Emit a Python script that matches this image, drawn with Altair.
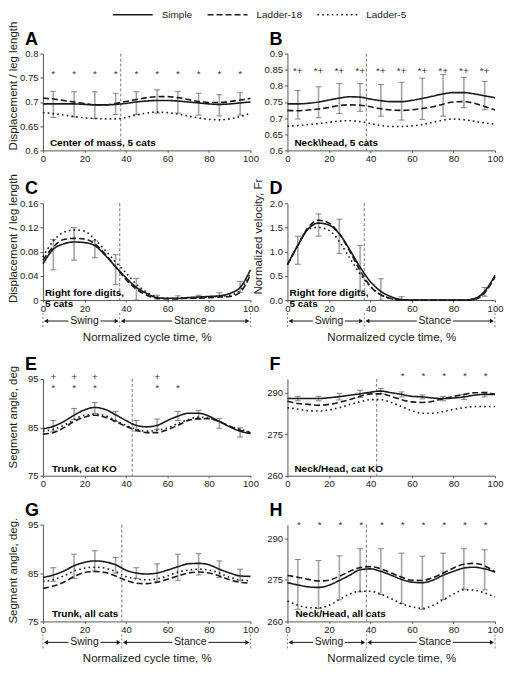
import altair as alt
import pandas as pd

FONT = "Liberation Sans"
INK = "#1a1a1a"
AXC = "#555555"

SERIES = ["Simple", "Ladder-18", "Ladder-5"]
X = list(range(0, 101, 5))
XE = list(range(5, 100, 10))
XTICKS = [0, 20, 40, 60, 80, 100]

# ---------------- A: Center of mass ----------------
A_S = [0.696, 0.696, 0.696, 0.696, 0.695, 0.694, 0.694, 0.695, 0.697, 0.700, 0.702, 0.703, 0.703, 0.702, 0.700, 0.698, 0.696, 0.695, 0.696, 0.698, 0.700]
A_L18 = [0.708, 0.706, 0.703, 0.700, 0.697, 0.694, 0.694, 0.697, 0.701, 0.705, 0.709, 0.711, 0.711, 0.709, 0.705, 0.701, 0.699, 0.699, 0.701, 0.704, 0.707]
A_L5 = [0.678, 0.676, 0.673, 0.670, 0.667, 0.666, 0.665, 0.665, 0.668, 0.673, 0.677, 0.679, 0.678, 0.675, 0.671, 0.667, 0.664, 0.663, 0.665, 0.670, 0.677]
A_LO = [0.668, 0.669, 0.666, 0.674, 0.674, 0.677, 0.677, 0.673, 0.671, 0.673]
A_HI = [0.722, 0.721, 0.721, 0.718, 0.721, 0.725, 0.722, 0.718, 0.715, 0.719]

# ---------------- B: Neck/head ----------------
B_S = [0.744, 0.744, 0.746, 0.750, 0.756, 0.762, 0.766, 0.765, 0.759, 0.754, 0.751, 0.751, 0.755, 0.761, 0.768, 0.775, 0.779, 0.779, 0.775, 0.769, 0.763]
B_L18 = [0.724, 0.723, 0.725, 0.728, 0.733, 0.739, 0.741, 0.740, 0.735, 0.729, 0.725, 0.724, 0.726, 0.730, 0.735, 0.743, 0.750, 0.751, 0.746, 0.736, 0.725]
B_L5 = [0.675, 0.677, 0.680, 0.683, 0.687, 0.691, 0.692, 0.689, 0.683, 0.677, 0.674, 0.674, 0.676, 0.680, 0.687, 0.694, 0.697, 0.695, 0.690, 0.685, 0.681]
B_LO = [0.697, 0.701, 0.714, 0.721, 0.706, 0.694, 0.696, 0.706, 0.732, 0.726]
B_HI = [0.786, 0.797, 0.807, 0.807, 0.804, 0.811, 0.824, 0.835, 0.826, 0.814]

# ---------------- C: Right fore digits displacement ----------------
C_S = [0.060, 0.084, 0.093, 0.096, 0.095, 0.090, 0.074, 0.055, 0.037, 0.021, 0.011, 0.004, 0.003, 0.003, 0.004, 0.005, 0.006, 0.007, 0.011, 0.021, 0.050]
C_L18 = [0.066, 0.088, 0.100, 0.102, 0.101, 0.093, 0.076, 0.055, 0.034, 0.018, 0.008, 0.003, 0.002, 0.002, 0.003, 0.003, 0.004, 0.005, 0.006, 0.013, 0.042]
C_L5 = [0.071, 0.098, 0.112, 0.116, 0.114, 0.100, 0.082, 0.063, 0.045, 0.026, 0.013, 0.005, 0.003, 0.003, 0.004, 0.004, 0.005, 0.006, 0.008, 0.016, 0.045]
C_LO = [0.050, 0.066, 0.070, 0.026, 0.000, 0.000, 0.002, 0.004, 0.006, 0.013]
C_HI = [0.100, 0.120, 0.098, 0.075, 0.036, 0.008, 0.007, 0.008, 0.012, 0.031]

# ---------------- D: Right fore digits velocity ----------------
D_S = [0.73, 1.13, 1.47, 1.59, 1.55, 1.37, 1.04, 0.68, 0.38, 0.18, 0.07, 0.01, 0, 0, 0, 0, 0, 0, 0.03, 0.18, 0.51]
D_L18 = [0.73, 1.13, 1.50, 1.65, 1.59, 1.37, 1.01, 0.61, 0.28, 0.11, 0.03, 0, 0, 0, 0, 0, 0, 0, 0.01, 0.15, 0.48]
D_L5 = [0.73, 1.13, 1.47, 1.50, 1.44, 1.21, 0.87, 0.54, 0.28, 0.11, 0.03, 0, 0, 0, 0, 0, 0, 0, 0.01, 0.16, 0.49]
D_EX = [5, 15, 25, 35, 45, 55, 95]
D_LO = [0.74, 1.32, 0.96, 0.20, 0.0, 0.0, 0.08]
D_HI = [1.32, 1.78, 1.67, 1.13, 0.44, 0.07, 0.26]

# ---------------- E: Trunk, cat KO ----------------
E_S = [84.7, 85.2, 86.2, 87.5, 88.6, 89.1, 88.7, 87.6, 86.4, 85.4, 85.1, 85.4, 86.4, 87.3, 87.9, 87.9, 87.3, 86.2, 85.1, 84.2, 83.7]
E_L18 = [83.6, 83.9, 84.9, 86.2, 87.1, 87.5, 87.1, 86.2, 85.2, 84.4, 83.9, 83.9, 84.5, 85.4, 86.4, 86.8, 86.8, 86.2, 85.2, 84.4, 83.9]
E_L5 = [84.2, 84.6, 85.4, 86.6, 87.5, 87.7, 87.4, 86.4, 85.4, 84.6, 84.2, 84.4, 84.9, 85.8, 86.6, 87.1, 86.9, 86.2, 85.2, 84.6, 84.0]
E_LO = [84.2, 86.6, 87.9, 86.2, 84.2, 84.6, 86.4, 86.6, 84.8, 83.0]
E_HI = [86.4, 88.9, 90.1, 88.3, 86.4, 86.7, 88.3, 88.5, 86.8, 84.9]

# ---------------- F: Neck/Head, cat KO ----------------
F_S = [287.9, 287.9, 287.9, 287.9, 288.2, 288.6, 289.1, 289.6, 290.2, 290.6, 290.0, 289.4, 288.7, 288.5, 288.1, 287.9, 288.1, 288.5, 289.1, 289.4, 289.4]
F_L18 = [286.9, 286.1, 285.8, 285.5, 285.8, 286.5, 287.5, 288.7, 289.6, 289.6, 288.7, 287.5, 286.7, 286.5, 286.9, 287.9, 288.7, 289.4, 290.0, 290.0, 289.4]
F_L5 = [284.6, 284.1, 283.5, 283.4, 283.8, 284.6, 285.8, 286.7, 287.5, 287.5, 286.5, 285.0, 283.5, 282.6, 282.6, 283.2, 284.0, 284.6, 285.0, 285.0, 285.0]
F_LO = [287.1, 287.1, 287.4, 288.3, 289.6, 288.5, 287.8, 287.1, 287.6, 288.5]
F_HI = [288.7, 288.7, 289.8, 290.9, 291.6, 290.3, 289.2, 288.7, 289.4, 290.3]

# ---------------- G: Trunk, all cats ----------------
G_S = [84.1, 84.6, 85.4, 86.5, 87.2, 87.5, 87.3, 86.7, 85.6, 85.0, 84.8, 85.0, 85.6, 86.3, 86.9, 87.0, 86.7, 85.8, 85.0, 84.4, 84.3]
G_L18 = [81.8, 82.3, 83.1, 84.3, 85.1, 85.3, 85.1, 84.4, 83.5, 82.9, 82.8, 83.1, 83.7, 84.4, 85.0, 85.2, 85.0, 84.4, 83.6, 83.1, 82.9]
G_L5 = [83.3, 83.6, 84.4, 85.4, 86.0, 86.2, 86.0, 85.3, 84.3, 83.8, 83.6, 83.8, 84.4, 85.2, 85.6, 85.8, 85.6, 85.0, 84.1, 83.6, 83.4]
G_LO = [83.3, 83.9, 85.4, 85.0, 83.9, 83.3, 83.5, 84.6, 84.1, 83.4]
G_HI = [86.1, 88.9, 89.6, 88.2, 86.1, 86.9, 88.9, 89.0, 87.5, 85.8]

# ---------------- H: Neck/Head, all cats ----------------
H_S = [274.0, 273.2, 272.5, 272.3, 273.1, 274.8, 276.7, 278.7, 279.0, 278.1, 276.7, 275.2, 274.2, 274.0, 274.9, 276.7, 278.1, 279.3, 279.6, 279.0, 277.9]
H_L18 = [276.6, 276.0, 275.2, 274.6, 274.9, 276.3, 278.1, 279.5, 279.8, 279.0, 277.5, 276.0, 274.9, 274.8, 275.8, 277.5, 279.3, 280.7, 281.0, 280.1, 277.9]
H_L5 = [267.4, 265.8, 265.0, 264.9, 265.8, 267.9, 269.9, 270.9, 270.9, 269.9, 268.2, 266.4, 265.3, 264.7, 265.8, 267.8, 269.9, 271.4, 271.3, 270.3, 268.8]
H_LO = [264.4, 264.7, 267.8, 270.7, 269.7, 266.4, 264.4, 267.9, 271.7, 271.4]
H_HI = [282.4, 282.0, 283.7, 286.3, 286.3, 284.7, 283.6, 284.7, 286.3, 285.9]

# significance markers (x, y, text)
A_MK = (XE, [0.757] * 10, ["*"] * 10)
B_MK = (XE, [0.846] * 10, ["*+"] * 10)
E_MK = ([5, 15, 25, 55, 5, 15, 25, 55, 65], [95.3] * 4 + [93.1] * 5, ["+"] * 4 + ["*"] * 5)
F_MK = ([55.5, 65.5, 75.5, 85.5, 95.5], [296.0] * 5, ["*"] * 5)
H_MK = ([x + 0.5 for x in XE], [295.0] * 10, ["*"] * 10)
NO_MK = ([], [], [])

W, H = 208, 97

LEGEND = alt.Legend(title=None, orient="none", legendX=69, legendY=-45, direction="horizontal",
                    symbolType="stroke", symbolSize=1600, symbolStrokeWidth=1.5, clipHeight=12,
                    symbolStrokeColor=INK, labelFont=FONT, labelFontSize=10, labelColor=INK,
                    columnPadding=14, labelOffset=8)
DASH_SCALE = alt.Scale(domain=SERIES, range=[[1, 0], [6, 3], [1.6, 3.2]])


def panel(letter, S, L18, L5, ydom, yticks, yfmt, ytitle, div, ex, lo, hi, label, mk,
          label_x=7, phase=False, xtitle=None, title_frac=0.5, legend=False):
    xs = alt.Scale(domain=[0, 100], nice=False)
    ys = alt.Scale(domain=ydom, nice=False, zero=False)
    xaxis = alt.Axis(values=XTICKS, title=xtitle, labelFlush=False, labelOverlap=False,
                     tickSize=2, labelPadding=1, titlePadding=19, titleFontSize=11.5,
                     titleFontWeight="normal", titleColor=INK)
    yaxis_kw = dict(values=yticks, format=yfmt, title=ytitle, labelFlush=False,
                    labelOverlap=False, minExtent=21, maxExtent=21, tickSize=3,
                    labelPadding=2, titlePadding=3, titleFontSize=11.5,
                    titleFontWeight="normal", titleColor=INK)
    if ytitle is not None:
        yaxis_kw["titleY"] = H * title_frac
    yaxis = alt.Axis(**yaxis_kw)

    curves = pd.DataFrame({
        "t": X * 3,
        "v": S + L18 + L5,
        "series": [s for s in SERIES for _ in X],
    })
    errs = pd.DataFrame({"t": ex, "lo": lo, "hi": hi})
    mks = pd.DataFrame({"t": mk[0], "v": mk[1], "txt": mk[2]})
    dv = pd.DataFrame({"t": [div]})

    xt = alt.X("t:Q", scale=xs, axis=xaxis)

    divider = alt.Chart(dv).mark_rule(color="#777777", strokeDash=[3, 2], strokeWidth=1).encode(x=xt)
    bars = alt.Chart(errs).mark_rule(color="#a6a6a6", strokeWidth=1.6).encode(
        x=xt, y=alt.Y("lo:Q", scale=ys, axis=yaxis), y2="hi:Q")
    cap_lo = alt.Chart(errs).mark_tick(orient="horizontal", size=6, thickness=1, color="#555555").encode(
        x=xt, y=alt.Y("lo:Q", scale=ys, axis=yaxis))
    cap_hi = alt.Chart(errs).mark_tick(orient="horizontal", size=6, thickness=1, color="#555555").encode(
        x=xt, y=alt.Y("hi:Q", scale=ys, axis=yaxis))
    lines = alt.Chart(curves).mark_line(color=INK, strokeWidth=1.6, interpolate="monotone",
                                        strokeCap="butt").encode(
        x=xt, y=alt.Y("v:Q", scale=ys, axis=yaxis),
        strokeDash=alt.StrokeDash("series:N", scale=DASH_SCALE,
                                  legend=LEGEND if legend else None, sort=SERIES),
        detail="series:N")
    marks = alt.Chart(mks).mark_text(font=FONT, fontSize=10, color="#333333", baseline="middle").encode(
        x=xt, y=alt.Y("v:Q", scale=ys, axis=yaxis), text="txt:N")
    lab = alt.Chart(pd.DataFrame({"txt": [label]})).mark_text(
        font=FONT, fontSize=10, fontWeight="bold", color="#000000", align="left",
        baseline="bottom", lineBreak="\n", lineHeight=11).encode(
        x=alt.value(label_x), y=alt.value(H - 2), text="txt:N")
    let = alt.Chart(pd.DataFrame({"txt": [letter]})).mark_text(
        font=FONT, fontSize=18, fontWeight="bold", color="#000000", align="left",
        baseline="alphabetic").encode(x=alt.value(-18), y=alt.value(-9), text="txt:N")

    layers = [divider, bars, cap_lo, cap_hi, lines, marks, lab, let]

    if phase:
        yrow = H + 21
        tri = pd.DataFrame({"t": [1.5, div - 1.5, div + 1.5, 98.5],
                            "shape": ["triangle-left", "triangle-right", "triangle-left", "triangle-right"]})
        seg = pd.DataFrame({"t": [1.5, 27.7, div + 1.5, 79.7], "t2": [12.3, div - 1.5, 62.3, 98.5]})
        words = pd.DataFrame({"t": [20, 71], "txt": ["Swing", "Stance"]})
        ends = pd.DataFrame({"t": [0, div, 100]})
        layers += [
            alt.Chart(ends).mark_rule(color="#888888", strokeDash=[2, 2], strokeWidth=1).encode(
                x=xt, y=alt.value(H + 13), y2=alt.value(H + 29)),
            alt.Chart(seg).mark_rule(color=INK, strokeWidth=1).encode(
                x=xt, x2="t2:Q", y=alt.value(yrow)),
            alt.Chart(tri).mark_point(filled=True, size=22, color=INK, opacity=1).encode(
                x=xt, y=alt.value(yrow),
                shape=alt.Shape("shape:N", scale=None, legend=None)),
            alt.Chart(words).mark_text(font=FONT, fontSize=10.5, color=INK, baseline="middle").encode(
                x=xt, y=alt.value(yrow), text="txt:N"),
        ]

    return alt.layer(*layers).properties(width=W, height=H)


pA = panel("A", A_S, A_L18, A_L5, [0.6, 0.8], [0.6, 0.65, 0.7, 0.75, 0.8], ".2~f",
           "Displacement / leg length", 37.5, XE, A_LO, A_HI, "Center of mass, 5 cats", A_MK,
           title_frac=0.33, legend=True)
pB = panel("B", B_S, B_L18, B_L5, [0.6, 0.9], [0.6, 0.65, 0.7, 0.75, 0.8, 0.85, 0.9], ".2~f",
           None, 38, XE, B_LO, B_HI, "Neck\\head, 5 cats", B_MK)
pC = panel("C", C_S, C_L18, C_L5, [0, 0.16], [0, 0.04, 0.08, 0.12, 0.16], ".2~f",
           "Displacement / leg length", 37, XE, C_LO, C_HI, "Right fore digits,\n5 cats",
           NO_MK, label_x=2, phase=True, xtitle="Normalized cycle time, %", title_frac=0.36)
pD = panel("D", D_S, D_L18, D_L5, [0, 2], [0, 0.5, 1.0, 1.5, 2.0], ".1f",
           "Normalized velocity, Fr", 37, D_EX, D_LO, D_HI, "Right fore digits,\n5 cats",
           NO_MK, label_x=2, phase=True, xtitle="Normalized cycle time, %", title_frac=0.34)
pE = panel("E", E_S, E_L18, E_L5, [75, 95], [75, 85, 95], "d",
           "Segment  angle, deg", 43, XE, E_LO, E_HI, "Trunk, cat KO", E_MK, label_x=9,
           title_frac=0.39)
pF = panel("F", F_S, F_L18, F_L5, [260, 295], [260, 275, 290], "d",
           None, 43, XE, F_LO, F_HI, "Neck/Head, cat KO", F_MK)
pG = panel("G", G_S, G_L18, G_L5, [75, 95], [75, 85, 95], "d",
           "Segment  angle, deg.", 38, XE, G_LO, G_HI, "Trunk, all cats", NO_MK,
           label_x=9, phase=True, xtitle="Normalized cycle time, %", title_frac=0.47)
pH = panel("H", H_S, H_L18, H_L5, [260, 295], [260, 275, 290], "d",
           None, 38, XE, H_LO, H_HI, "Neck/Head, all cats", H_MK,
           label_x=8, phase=True, xtitle="Normalized cycle time, %")


def row(a, b):
    return alt.hconcat(a, b, spacing=37, bounds="flush").resolve_scale(strokeDash="independent")


top = alt.vconcat(row(pA, pB), row(pC, pD), spacing=10).resolve_scale(strokeDash="independent")
bottom = alt.vconcat(row(pE, pF), row(pG, pH), spacing=13).resolve_scale(strokeDash="independent")

chart = alt.vconcat(top, bottom, spacing=13).resolve_scale(strokeDash="independent").properties(
    padding={"left": 0, "top": 0, "right": 2, "bottom": 0}
).configure(font=FONT).configure_view(stroke=None).configure_axis(
    grid=False, domainColor=AXC, tickColor=AXC, labelColor="#222222",
    labelFont=FONT, titleFont=FONT, labelFontSize=9.5
)

chart.save("out.html", embed_options={"renderer": "svg", "actions": False})
